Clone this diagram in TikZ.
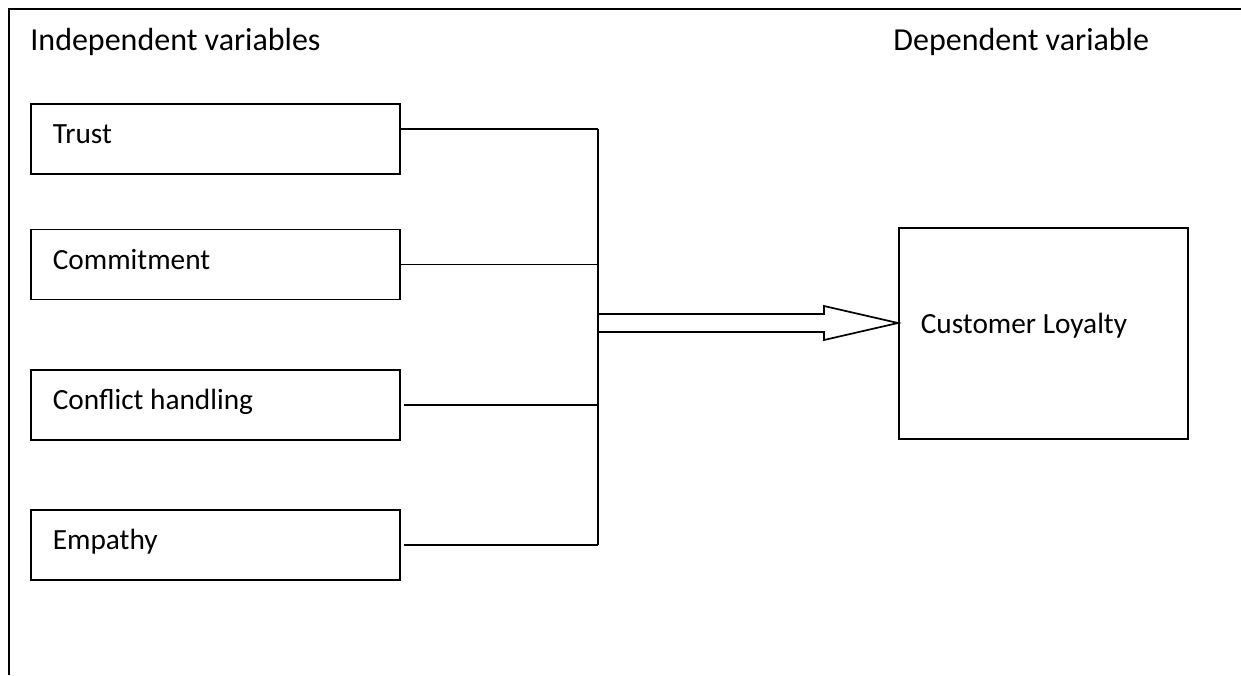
\documentclass[tikz,border=0pt]{standalone}
\usepackage{fontspec}
\setmainfont{Carlito}
\usetikzlibrary{positioning,calc}

\begin{document}
\begin{tikzpicture}[
    x=0.5pt, y=-0.5pt,
    every node/.style={font=\fontsize{14.65}{17}\selectfont},
    varbox/.style={rectangle, draw, line width=0.85pt, anchor=north west, minimum width=184.5pt, minimum height=35pt, text width=162.5pt, inner xsep=11pt, inner ysep=0pt, align=left, text height=10pt, text depth=5.5pt, execute at begin node={\spaceskip=0pt\xspaceskip=0pt\relax}},
    head/.style={anchor=base west, inner sep=0pt, font=\fontsize{16}{19}\selectfont},
    link/.style={line width=0.85pt}
]
\useasboundingbox (0,0) rectangle (1241,675);

% Frame
\draw[line width=1pt] (9,675) -- (9,9) -- (1241,9);

% Headings
\node[head] (indep) at (30,50) {Independent variables};
\node[head] (dep) at (893,50) {Dependent variable};

% Independent variables
\node[varbox] (trust) at (30,103) {Trust};
\node[varbox, below=27pt of trust] (commit) {Commitment};
\node[varbox, below=34.5pt of commit] (conflict) {Conflict handling};
\node[varbox, below=34pt of conflict] (empathy) {Empathy};

% Dependent variable
\node[varbox, minimum width=144.5pt, text width=122.5pt, minimum height=105.5pt, text depth=10pt] (loyalty) at (898,227) {Customer Loyalty};

% Links
\draw[link] ($(trust.east)+(0,-10)$) -- ++(197,0) coordinate (bustop);
\draw[link] (commit.east) -- (commit.east -| bustop);
\draw[link] ($(conflict.east)+(3,0)$) -- (conflict.east -| bustop);
\draw[link] ($(empathy.east)+(3,0)$) -- (empathy.east -| bustop) coordinate (busend);
\draw[link] (bustop) -- (busend);

% Block arrow
\coordinate (tip) at ($(loyalty.north west)+(0,96)$);
\draw[link] ($(tip -| bustop)+(0,-9)$) -- ($(tip)+(-74,-9)$) -- ($(tip)+(-74,-17)$) -- (tip)
    -- ($(tip)+(-74,17)$) -- ($(tip)+(-74,9)$) -- ($(tip -| bustop)+(0,9)$);

\end{tikzpicture}
\end{document}
